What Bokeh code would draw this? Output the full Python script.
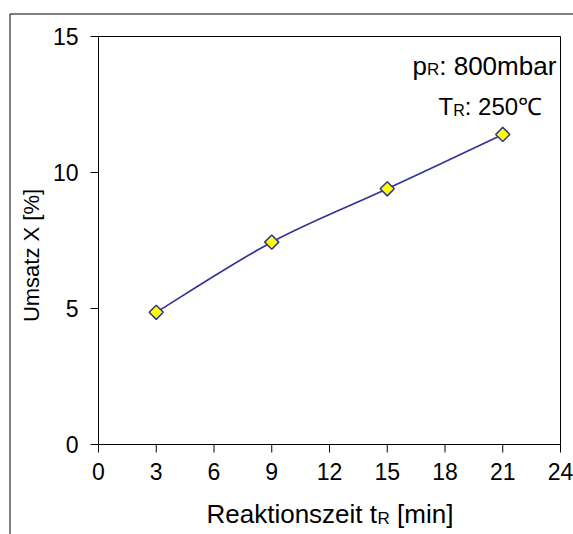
import math
from bokeh.plotting import figure
from bokeh.models import Label
from bokeh.core.properties import value
from bokeh.embed import file_html
from bokeh.resources import INLINE

# Reaction time vs. conversion
t_min = [3, 9, 15, 21]
umsatz = [4.86, 7.44, 9.40, 11.40]

x_ticks = [0, 3, 6, 9, 12, 15, 18, 21, 24]
x_tick_labels = ["0", "3", "6", "9", "12", "15", "18", "21", "24"]
y_ticks = [0, 5, 10, 15]
y_tick_labels = ["0", "5", "10", "15"]

FONT = "Liberation Sans"
W, H = 573, 534
# plot area in canvas pixels
PL, PR, PT, PB = 98, 560, 36, 444
X0, X1, Y0, Y1 = 0, 24, 0, 15
SX = (PR - PL) / (X1 - X0)
SY = (PB - PT) / (Y1 - Y0)

def dx(px):
    return X0 + (px - PL) / SX

def dy(py):
    return Y0 + (PB - py) / SY

# the frame spans the whole canvas; the axes are drawn as guides below
p = figure(width=W, height=H, output_backend="svg", toolbar_location=None,
           x_range=(dx(0), dx(W)), y_range=(dy(H), dy(0)),
           x_axis_location=None, y_axis_location=None,
           min_border=0, min_border_left=0, min_border_right=0,
           min_border_top=0, min_border_bottom=0)
p.grid.visible = False
p.outline_line_color = None
p.background_fill_color = "white"
p.border_fill_color = "white"

# outer chart border (top and left edges)
p.segment(x0=[dx(9.5), dx(9.5)], y0=[dy(13.5), dy(13.5)],
          x1=[dx(W + 5), dx(9.5)], y1=[dy(13.5), dy(H + 5)],
          line_color="black", line_width=1)

# plot area box
p.quad(left=[X0], right=[X1], bottom=[Y0], top=[Y1],
       fill_color=None, line_color="black", line_width=1)

# tick marks
TICK = 8
p.segment(x0=x_ticks, y0=[Y0] * len(x_ticks), x1=x_ticks,
          y1=[dy(PB + TICK)] * len(x_ticks), line_color="black", line_width=1)
p.segment(x0=[X0] * len(y_ticks), y0=y_ticks, x1=[dx(PL - TICK)] * len(y_ticks),
          y1=y_ticks, line_color="black", line_width=1)

# tick labels
p.text(x=x_ticks, y=[dy(PB + 18)] * len(x_ticks), text=x_tick_labels,
       text_font=value(FONT), text_font_size="23px", text_color="black",
       text_align="center", text_baseline="top")
p.text(x=[dx(PL - 20)] * len(y_ticks), y=y_ticks, text=y_tick_labels,
       text_font=value(FONT), text_font_size="23px", text_color="black",
       text_align="right", text_baseline="middle")

# smoothed connecting line: cubic Bezier segments through the points
n = len(t_min)
def pt(i):
    i = max(0, min(n - 1, i))
    return t_min[i], umsatz[i]

bx0, by0, bx1, by1, c0x, c0y, c1x, c1y = [], [], [], [], [], [], [], []
for i in range(n - 1):
    xa, ya = pt(i)
    xb, yb = pt(i + 1)
    xp, yp = pt(i - 1)
    xn, yn = pt(i + 2)
    bx0.append(xa); by0.append(ya); bx1.append(xb); by1.append(yb)
    c0x.append(xa + (xb - xp) / 6); c0y.append(ya + (yb - yp) / 6)
    c1x.append(xb - (xn - xa) / 6); c1y.append(yb - (yn - ya) / 6)
p.bezier(x0=bx0, y0=by0, x1=bx1, y1=by1, cx0=c0x, cy0=c0y, cx1=c1x, cy1=c1y,
         line_color="#333399", line_width=1.7)

p.scatter(t_min, umsatz, marker="square", angle=math.pi / 4, size=10,
          fill_color="#FFFF00", line_color="#333399", line_width=1.5)

def lab(text, px, py, size, align="left", angle=0.0):
    p.add_layout(Label(x=px, y=py, x_units="canvas", y_units="canvas", text=text,
                       text_font=FONT, text_font_size=f"{size}px", text_color="black",
                       text_align=align, text_baseline="alphabetic", angle=angle))

# Arial/Liberation Sans advance widths (per 1000 em)
AW = {"p": 556, "T": 611, "R": 722, ":": 278, " ": 278, "t": 278, "i": 222,
      "k": 500, "s": 500, "z": 500}

def w(s, size):
    return sum(AW.get(c, 556) for c in s) * size / 1000.0

# reaction conditions
MS, SS = 26, 17
x = 412
lab("p", x, 65, MS); x += w("p", MS)
lab("R", x, 69, SS); x += w("R", SS)
lab(": 800mbar", x, 65, MS)

MS2, SS2 = 24, 16
x = 438
lab("T", x, 106, MS2); x += w("T", MS2)
lab("R", x, 110, SS2); x += w("R", SS2)
lab(": 250\u2103", x, 106, MS2)

# axis titles
AS, ASS = 26, 17
x = 206
lab("Reaktionszeit t", x, 513, AS); x += w("Reaktionszeit t", AS) + 0.5
lab("R", x, 518, ASS); x += w("R", ASS) + w(" ", AS)
lab("[min]", x, 513, AS)

lab("Umsatz X [%]", 31, 255, 22, align="center", angle=math.pi / 2)

open("out.html", "w").write(file_html(p, INLINE))
